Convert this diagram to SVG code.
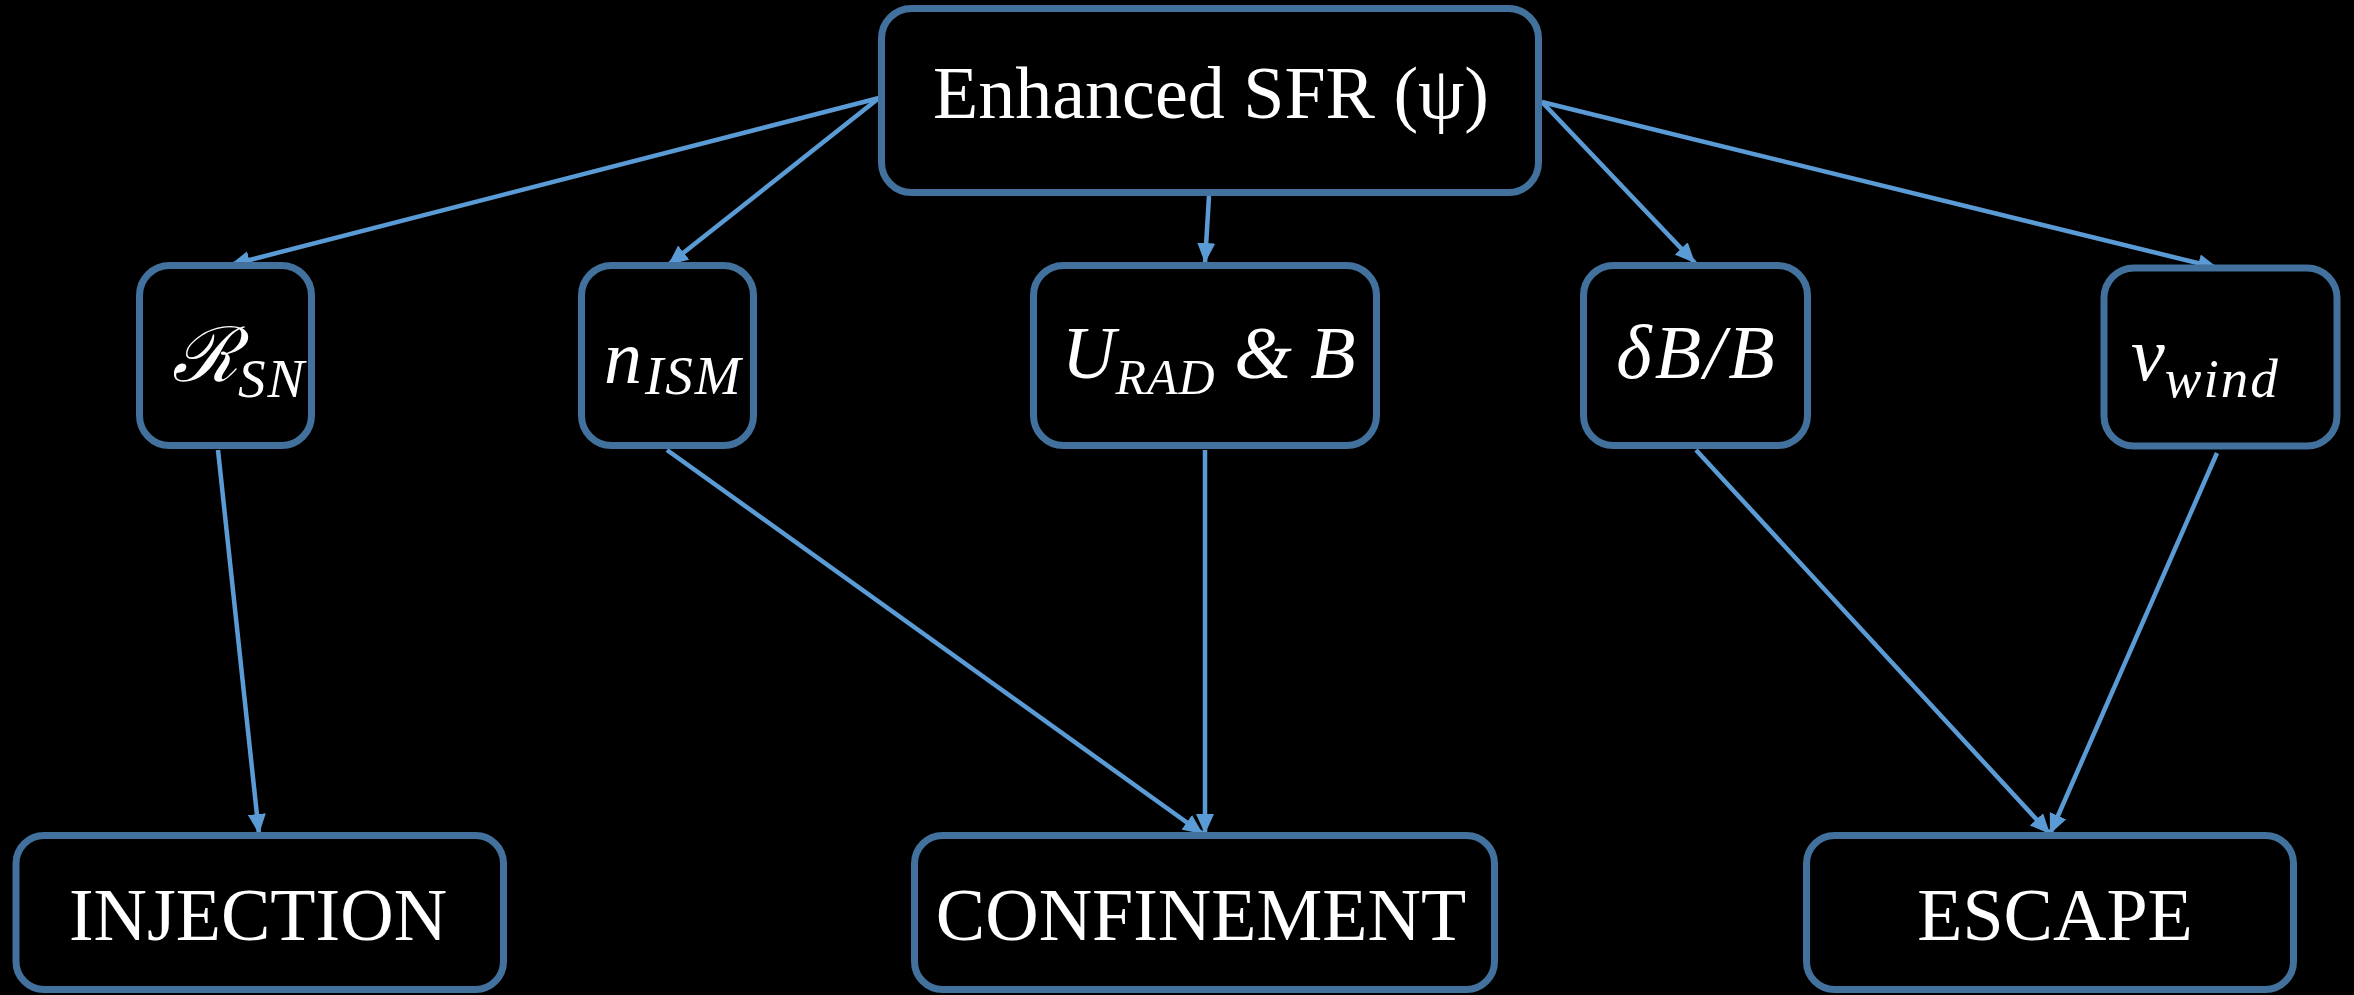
<svg xmlns="http://www.w3.org/2000/svg" width="2354" height="995" viewBox="0 0 2354 995">
<defs>
<style>
.box{fill:#000;stroke:#41719c;stroke-width:7}
.lbl{font-family:"Liberation Serif","Times New Roman",serif;font-size:74px;fill:#fff;text-anchor:middle}
.math{font-family:"Liberation Serif","DejaVu Serif",serif;font-style:italic;font-size:76px;fill:#fff}
.sub{font-size:55px;letter-spacing:2px}
.conn{stroke:#5b9bd5;stroke-width:4.5;fill:none;marker-end:url(#ah)}
</style>
<marker id="ah" markerUnits="userSpaceOnUse" markerWidth="20" markerHeight="18" viewBox="0 0 20 18" refX="20" refY="9" orient="auto">
<path d="M0,0 L20,9 L0,18 Z" fill="#5b9bd5"/>
</marker>
</defs>
<rect width="2354" height="995" fill="#000"/>
<g id="connectors">
<line class="conn" x1="879" y1="98" x2="230" y2="265"/>
<line class="conn" x1="879" y1="98" x2="668" y2="265"/>
<line class="conn" x1="1209" y1="196" x2="1205" y2="263"/>
<line class="conn" x1="1542" y1="102" x2="1695" y2="263"/>
<line class="conn" x1="1542" y1="102" x2="2218" y2="268"/>
<line class="conn" x1="218" y1="450" x2="259" y2="834"/>
<line class="conn" x1="667" y1="450" x2="1203" y2="834"/>
<line class="conn" x1="1205" y1="450" x2="1205" y2="834"/>
<line class="conn" x1="1696" y1="450" x2="2050" y2="834"/>
<line class="conn" x1="2217" y1="453" x2="2050" y2="834"/>
</g>
<g id="n_sfr">
<rect class="box" x="881.5" y="8.5" width="657" height="184" rx="30"/>
<text class="lbl" x="1211" y="118">Enhanced SFR (ψ)</text>
</g>
<g id="n_rsn">
<rect class="box" x="139.5" y="265.5" width="172" height="180" rx="30"/>
<text class="math" x="172" y="381">ℛ<tspan class="sub" dy="16">SN</tspan></text>
</g>
<g id="n_nism">
<rect class="box" x="581.5" y="265.5" width="172" height="180" rx="30"/>
<text class="math" x="604" y="383">n<tspan class="sub" dx="3" dy="11">ISM</tspan></text>
</g>
<g id="n_urad">
<rect class="box" x="1033.5" y="265.5" width="343" height="180" rx="30"/>
<text class="math" x="1062" y="378" style="font-size:74px">U<tspan class="sub" dy="16" style="font-size:50px;letter-spacing:1px">RAD</tspan><tspan dy="-16"> &amp; B</tspan></text>
</g>
<g id="n_db">
<rect class="box" x="1583.5" y="265.5" width="224" height="180" rx="30"/>
<text class="math" x="1697" y="378" text-anchor="middle" letter-spacing="3">δB/B</text>
</g>
<g id="n_vwind">
<rect class="box" x="2104" y="268" width="233" height="178" rx="30"/>
<text class="math" x="2131" y="380">v<tspan class="sub" dy="17">wind</tspan></text>
</g>
<g id="n_injection">
<rect class="box" x="16" y="835.5" width="487.5" height="154" rx="28"/>
<text class="lbl" x="258" y="940">INJECTION</text>
</g>
<g id="n_confinement">
<rect class="box" x="914.5" y="835.5" width="580" height="154" rx="28"/>
<text class="lbl" x="1201" y="940">CONFINEMENT</text>
</g>
<g id="n_escape">
<rect class="box" x="1806.5" y="835.5" width="487" height="154" rx="28"/>
<text class="lbl" x="2055" y="940">ESCAPE</text>
</g>
</svg>
